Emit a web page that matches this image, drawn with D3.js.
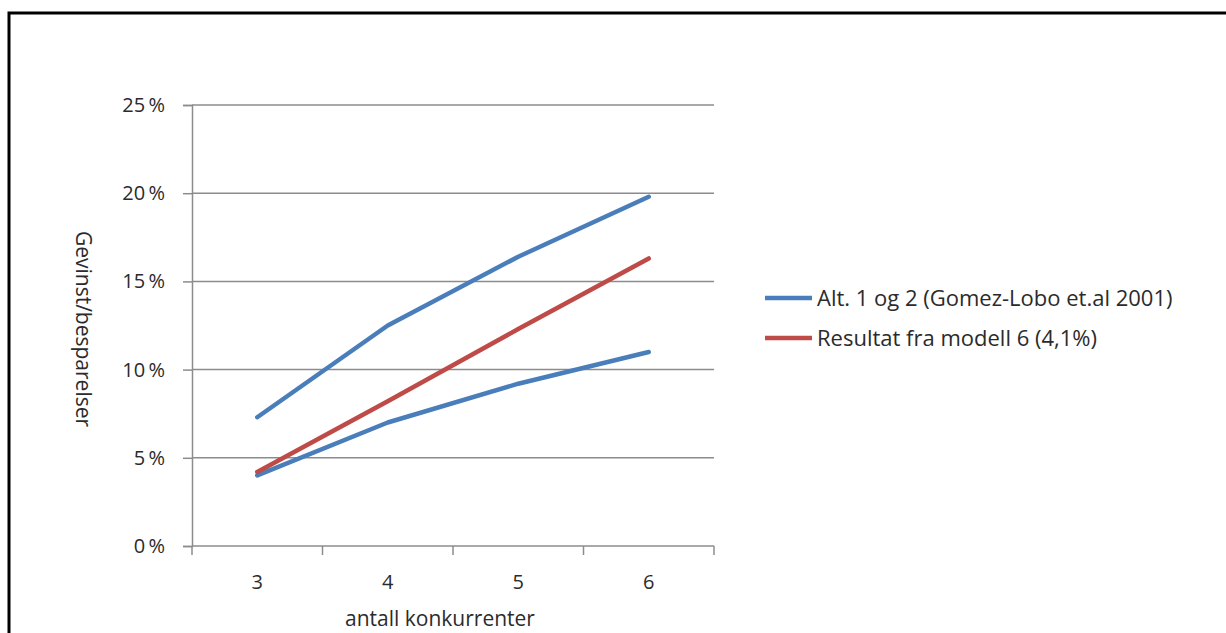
<!DOCTYPE html>
<html>
<head>
<meta charset="utf-8">
<script src="https://cdn.jsdelivr.net/npm/d3@7"></script>
<style>
  body { margin: 0; background: #fff; }
  svg text { font-family: "Open Sans", sans-serif; fill: #2b2b2b; font-weight: 500; }
</style>
</head>
<body>
<div id="chart"></div>
<script>
const categories = ["3", "4", "5", "6"];
const altHigh = [7.3, 12.5, 16.4, 19.8];
const altLow = [4.0, 7.0, 9.2, 11.0];
const modell = [4.2, 8.2, 12.3, 16.3];
const yTicks = [0, 5, 10, 15, 20, 25];
const seriesNames = ["Alt. 1 og 2 (Gomez-Lobo et.al 2001)", "Resultat fra modell 6 (4,1%)"];

const width = 1226, height = 633;
const margin = { top: 105, right: 512, bottom: 87, left: 192 };
const innerW = width - margin.left - margin.right;
const innerH = height - margin.top - margin.bottom;

const blue = "#4a7ebb", red = "#be4b48", gridColor = "#8c8c8c";

const svg = d3.select("#chart").append("svg")
    .attr("width", width)
    .attr("height", height);

// frame (only left and top edges visible)
svg.append("path")
    .attr("d", `M9,${height} V13 H${width}`)
    .attr("fill", "none")
    .attr("stroke", "#000")
    .attr("stroke-width", 3);

const g = svg.append("g")
    .attr("transform", `translate(${margin.left},${margin.top})`);

const x = d3.scaleBand()
    .domain(categories)
    .range([0, innerW]);

const y = d3.scaleLinear()
    .domain([0, 25])
    .range([innerH, 0]);

// gridlines
g.selectAll(".grid")
    .data(yTicks.filter(d => d > 0))
    .enter()
    .append("line")
    .attr("x1", 0)
    .attr("x2", innerW)
    .attr("y1", d => y(d))
    .attr("y2", d => y(d))
    .attr("stroke", gridColor)
    .attr("stroke-width", 1.5);

// y axis
const yAxis = g.append("g")
    .call(d3.axisLeft(y).tickValues(yTicks).tickSize(9).tickPadding(18).tickFormat(d => d + "\u2009%"));
yAxis.select(".domain").attr("stroke", gridColor).attr("stroke-width", 1.5);
yAxis.selectAll(".tick line").attr("stroke", gridColor).attr("stroke-width", 1.5);
yAxis.selectAll("text")
    .style("font-size", "20px")
    .style("font-family", "'Open Sans', sans-serif")
    .attr("fill", "#2b2b2b");

// x axis: line with ticks at category boundaries
const xAxis = g.append("g")
    .attr("transform", `translate(0,${innerH})`);
xAxis.append("line")
    .attr("x1", 0).attr("x2", innerW)
    .attr("stroke", gridColor).attr("stroke-width", 1.5);
const edges = categories.map(c => x(c)).concat([innerW]);
xAxis.selectAll(".edge")
    .data(edges)
    .enter()
    .append("line")
    .attr("x1", d => d).attr("x2", d => d)
    .attr("y1", 0).attr("y2", 9)
    .attr("stroke", gridColor).attr("stroke-width", 1.5);
xAxis.selectAll(".xlab")
    .data(categories)
    .enter()
    .append("text")
    .attr("x", d => x(d) + x.bandwidth() / 2)
    .attr("y", 43)
    .attr("text-anchor", "middle")
    .style("font-size", "20px")
    .text(d => d);

// lines
const cx = (d, i) => x(categories[i]) + x.bandwidth() / 2;
const line = d3.line().x(cx).y(d => y(d));

[[altHigh, blue], [altLow, blue], [modell, red]].forEach(([vals, color]) => {
    g.append("path")
        .datum(vals)
        .attr("d", line)
        .attr("fill", "none")
        .attr("stroke", color)
        .attr("stroke-width", 4.5)
        .attr("stroke-linecap", "round")
        .attr("stroke-linejoin", "round");
});

// axis titles
svg.append("text")
    .attr("transform", "translate(76,329) rotate(90)")
    .attr("text-anchor", "middle")
    .style("font-size", "21px")
    .style("font-weight", 400)
    .text("Gevinst/besparelser");

svg.append("text")
    .attr("x", 440)
    .attr("y", 626)
    .attr("text-anchor", "middle")
    .style("font-size", "21px")
    .style("font-weight", 400)
    .text("antall konkurrenter");

// legend
const legend = svg.append("g").attr("transform", "translate(765,298)");
[blue, red].forEach((color, i) => {
    const row = legend.append("g").attr("transform", `translate(0,${i * 40})`);
    row.append("line")
        .attr("x1", 0).attr("x2", 47)
        .attr("stroke", color).attr("stroke-width", 4.5);
    row.append("text")
        .attr("x", 52)
        .attr("y", 8)
        .style("font-size", "22px")
        .text(seriesNames[i]);
});
</script>
</body>
</html>
